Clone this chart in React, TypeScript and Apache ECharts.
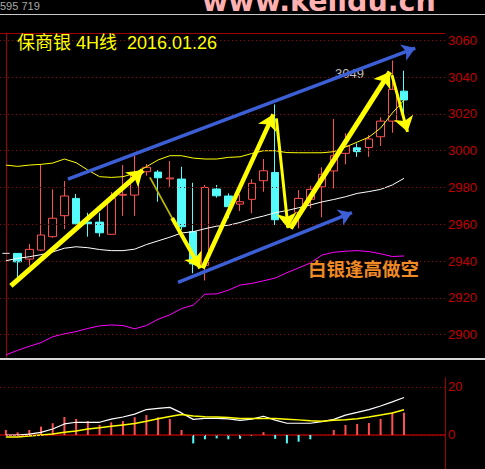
import React, { useEffect, useRef } from 'react';
import * as echarts from 'echarts';

const categories = [
  'K01', 'K02', 'K03', 'K04', 'K05', 'K06', 'K07', 'K08', 'K09', 'K10',
  'K11', 'K12', 'K13', 'K14', 'K15', 'K16', 'K17', 'K18', 'K19', 'K20',
  'K21', 'K22', 'K23', 'K24', 'K25', 'K26', 'K27', 'K28', 'K29', 'K30',
  'K31', 'K32', 'K33', 'K34', 'K35',
];
const opens = [2944.2, 2944.2, 2941.1, 2946.0, 2953.3, 2964.7, 2974.1, 2961.2, 2961.2, 2954.6,
  2975.8, 2975.9, 2988.6, 2988.4, 2984.7, 2984.6, 2956.0, 2937.7, 2979.2, 2975.4,
  2971.0, 2973.6, 2983.7, 2988.2, 2963.6, 2966.5, 2973.6, 2980.4, 2989.0, 2998.6,
  3001.6, 3001.8, 3007.6, 3016.1, 3032.4];
const closes = [2944.2, 2939.6, 2946.4, 2954.2, 2963.3, 2975.4, 2960.3, 2960.3, 2955.4, 2974.1,
  2976.3, 2988.0, 2991.0, 2985.3, 2985.2, 2958.7, 2938.5, 2980.0, 2975.5, 2969.6,
  2972.3, 2982.3, 2989.1, 2962.5, 2961.1, 2974.1, 2979.0, 2987.2, 2997.3, 3002.6,
  2999.5, 3006.4, 3016.1, 3033.4, 3027.6];
const lows = [2944.2, 2930.6, 2937.5, 2945.5, 2952.7, 2957.4, 2960.0, 2953.3, 2953.3, 2954.6,
  2964.6, 2964.6, 2986.4, 2972.3, 2980.4, 2957.0, 2933.4, 2929.5, 2974.5, 2963.3,
  2967.2, 2966.0, 2977.7, 2959.6, 2958.5, 2957.8, 2968.7, 2963.8, 2979.5, 2992.6,
  2996.7, 2996.7, 3002.6, 3009.8, 3020.5];
const highs = [2944.2, 2944.2, 2949.3, 2992.2, 2979.0, 2983.5, 2976.5, 2966.3, 2966.3, 2977.5,
  2992.2, 2997.7, 2992.8, 2989.5, 2994.4, 2991.3, 2982.6, 2981.4, 2981.4, 2976.8,
  2976.3, 2984.5, 2995.5, 3025.2, 2964.0, 2978.6, 2981.0, 2991.0, 3017.3, 3009.5,
  3004.0, 3008.5, 3018.1, 3049.0, 3043.5];

const bollUpper = [2992.2, 2991.5, 2992.2, 2992.6, 2993.3, 2995.5, 2993.5, 2989.5, 2985.9, 2985.5,
  2985.9, 2987.7, 2991.3, 2995.0, 2997.3, 2997.3, 2996.0, 2995.5, 2995.5, 2996.4,
  2996.7, 2998.5, 3000.0, 3000.0, 2999.0, 2998.9, 2998.9, 2998.9, 2999.5, 3002.0,
  3004.7, 3007.4, 3012.3, 3020.5, 3027.5];
const bollMid = [2940.2, 2941.5, 2942.4, 2943.5, 2945.0, 2947.0, 2947.8, 2947.3, 2946.3, 2945.7,
  2945.7, 2946.5, 2949.0, 2951.0, 2953.0, 2955.3, 2956.0, 2957.6, 2959.0, 2959.5,
  2961.0, 2963.0, 2964.5, 2966.3, 2967.5, 2969.0, 2970.5, 2972.2, 2973.5, 2975.0,
  2976.8, 2977.8, 2979.0, 2981.4, 2985.0];
const bollLower = [2889.0, 2891.5, 2893.7, 2895.7, 2898.9, 2900.5, 2901.7, 2903.4, 2904.8, 2905.3,
  2905.0, 2903.2, 2905.0, 2908.4, 2910.8, 2914.2, 2916.1, 2922.0, 2922.2, 2924.2,
  2927.0, 2927.9, 2929.3, 2930.8, 2933.7, 2936.3, 2939.0, 2943.3, 2944.8, 2945.4,
  2945.7, 2945.2, 2944.0, 2942.5, 2942.8];

const macdDif = [0.0, 0.0, 0.4, 1.1, 2.5, 4.6, 5.3, 5.3, 5.3, 6.6,
  7.5, 8.7, 10.6, 11.1, 11.5, 9.2, 6.5, 6.9, 6.9, 6.7,
  6.1, 6.6, 7.8, 6.2, 4.9, 4.9, 4.9, 5.6, 6.5, 8.3,
  9.4, 10.6, 12.1, 13.8, 15.6];
const macdDea = [-0.8, -0.8, -0.4, 0.0, 0.4, 1.1, 1.7, 2.5, 3.0, 3.6,
  4.2, 4.8, 5.7, 6.8, 7.7, 8.5, 7.9, 7.6, 7.5, 7.3,
  6.9, 6.9, 6.9, 6.9, 6.6, 6.3, 5.9, 5.7, 6.1, 6.4,
  6.8, 7.5, 8.3, 9.2, 10.5];
const macdHist = [2.1, 1.1, 2.1, 3.5, 4.9, 7.5, 6.7, 5.8, 4.2, 5.3,
  5.8, 7.4, 8.3, 7.4, 6.7, 2.1, -3.5, -1.8, -1.4, -1.8,
  -1.6, -0.3, 1.2, -1.6, -3.5, -2.8, -1.8, 0.0, 2.1, 4.2,
  4.6, 5.0, 6.7, 9.3, 9.3];

const priceTicks = [2900, 2920, 2940, 2960, 2980, 3000, 3020, 3040, 3060];
const macdTicks = [0, 20];

// annotation segments: [startIndex, startPrice, endIndex, endPrice]
const yellowArrows = [
  [0.43, 2926.5, 11.7, 2989.5],
  [14.2, 2963.4, 16.6, 2936.1],
  [16.8, 2936.1, 22.85, 3019.8],
  [23.1, 3017.6, 24.1, 2957.9],
  [24.3, 2957.8, 32.8, 3042.9],
  [32.97, 3041.1, 34.3, 3010.3],
];
const yellowArrowWidths = [5, 4, 4.5, 3, 5, 3];
const yellowThin = [[12.3, 2985.5, 14.2, 2963.4]];
const blueArrows = [
  [5.3, 2984.6, 34.96, 3055.8],
  [14.7, 2928.5, 29.55, 2966.3],
];
const highLabel = '3049';

const RED = '#ff5050';
const CYAN = '#54fcfc';
const DARKRED = '#a00000';

function seg(s: number[], extra: any = {}) {
  return { coords: [[s[0], s[1]], [s[2], s[3]]], ...extra };
}

export default function App() {
  const ref = useRef<HTMLDivElement>(null);
  useEffect(() => {
    document.body.style.margin = '0';
    document.body.style.background = '#000';
    const chart = echarts.init(ref.current!, null, { renderer: 'svg' });
    const candleData = categories.map((_, i) => {
      const v = [opens[i], closes[i], lows[i], highs[i]];
      if (opens[i] === closes[i] && highs[i] === lows[i]) {
        return {
          value: v,
          itemStyle: { color: '#c8c8c8', color0: '#c8c8c8', borderColor: '#c8c8c8', borderColor0: '#c8c8c8', borderColorDoji: '#c8c8c8' },
        };
      }
      return v;
    });
    const plainLabel = (v: number) => String(v);
    const option: any = {
      animation: false,
      backgroundColor: '#000000',
      grid: [
        { left: 0, top: 33, width: 445, height: 326 },
        { left: 0, top: 378, width: 445, height: 91 },
      ],
      xAxis: [
        {
          type: 'category', gridIndex: 0, data: categories, max: 37, position: 'top', boundaryGap: true,
          axisLine: { show: true, lineStyle: { color: DARKRED, width: 1 } },
          axisTick: { show: false }, axisLabel: { show: false }, splitLine: { show: false },
        },
        {
          type: 'category', gridIndex: 1, data: categories, max: 37, position: 'top', boundaryGap: true,
          axisLine: { show: true, lineStyle: { color: DARKRED, width: 1.5 } },
          axisTick: { show: false }, axisLabel: { show: false }, splitLine: { show: false },
        },
        { type: 'value', gridIndex: 0, min: -0.5, max: 37.5, show: false },
      ],
      yAxis: [
        {
          type: 'value', gridIndex: 0, position: 'right', min: 2886.8, max: 3064,
          axisLine: { show: true, lineStyle: { color: DARKRED, width: 1 } },
          axisTick: { show: false }, splitLine: { show: false },
          axisLabel: {
            customValues: priceTicks, formatter: plainLabel, color: '#c00000', fontSize: 13, margin: 3,
            fontFamily: 'Liberation Sans', padding: [7, 0, 0, 0],
          },
        },
        {
          type: 'value', gridIndex: 1, position: 'right', min: -14.17, max: 23.75,
          axisLine: { show: true, lineStyle: { color: DARKRED, width: 1 } },
          axisTick: { show: false }, splitLine: { show: false },
          axisLabel: {
            customValues: macdTicks, formatter: plainLabel, color: '#c00000', fontSize: 13, margin: 3,
            fontFamily: 'Liberation Sans', padding: [7, 0, 0, 0],
          },
        },
      ],
      series: [
        {
          type: 'candlestick', xAxisIndex: 0, yAxisIndex: 0, data: candleData, barWidth: 8,
          itemStyle: {
            color: '#000000', color0: CYAN, borderColor: RED, borderColor0: CYAN,
            borderColorDoji: RED, borderWidth: 1,
          },
          markLine: {
            silent: true, symbol: ['none', 'none'], label: { show: false },
            lineStyle: { color: DARKRED, type: [1, 3], width: 1 },
            data: priceTicks.map((v) => ({ yAxis: v })),
          },
          z: 3,
        },
        {
          type: 'line', xAxisIndex: 0, yAxisIndex: 0, data: bollUpper, showSymbol: false,
          lineStyle: { color: '#ffff00', width: 1 }, z: 4,
        },
        {
          type: 'line', xAxisIndex: 0, yAxisIndex: 0, data: bollMid, showSymbol: false,
          lineStyle: { color: '#ffffff', width: 1 }, z: 4,
        },
        {
          type: 'line', xAxisIndex: 0, yAxisIndex: 0, data: bollLower, showSymbol: false,
          lineStyle: { color: '#ff00ff', width: 1 }, z: 4,
        },
        {
          type: 'lines', coordinateSystem: 'cartesian2d', xAxisIndex: 2, yAxisIndex: 0,
          symbol: ['none', 'arrow'], symbolSize: 13,
          lineStyle: { color: '#3c5fd6', width: 3.5, opacity: 1 },
          data: blueArrows.map((s) => seg(s)), z: 5,
        },
        {
          type: 'lines', coordinateSystem: 'cartesian2d', xAxisIndex: 2, yAxisIndex: 0,
          symbol: ['none', 'none'],
          lineStyle: { color: '#b8b800', width: 1.8, opacity: 1 },
          data: yellowThin.map((s) => seg(s)), z: 6,
        },
        {
          type: 'lines', coordinateSystem: 'cartesian2d', xAxisIndex: 2, yAxisIndex: 0,
          symbol: ['none', 'arrow'], symbolSize: 15,
          lineStyle: { color: '#ffff00', width: 4, opacity: 1 },
          data: yellowArrows.map((s, i) => seg(s, { lineStyle: { width: yellowArrowWidths[i] } })), z: 6,
        },
        {
          type: 'bar', xAxisIndex: 1, yAxisIndex: 1, barWidth: 2,
          data: macdHist.map((v) => ({ value: v, itemStyle: { color: v >= 0 ? RED : CYAN } })),
          markLine: {
            silent: true, symbol: ['none', 'none'], label: { show: false },
            lineStyle: { color: DARKRED, type: [1, 3], width: 1 },
            data: macdTicks.map((v) => ({ yAxis: v })),
          },
        },
        {
          type: 'line', xAxisIndex: 1, yAxisIndex: 1, data: macdDif, showSymbol: false,
          lineStyle: { color: '#ffffff', width: 1.2 }, z: 4,
        },
        {
          type: 'line', xAxisIndex: 1, yAxisIndex: 1, data: macdDea, showSymbol: false,
          lineStyle: { color: '#ffff00', width: 1.5 }, z: 4,
        },
      ],
      graphic: [
        {
          type: 'text', left: 0, top: 0, z: 10,
          style: { text: '595 719', fill: '#a8a8a8', fontSize: 11, fontFamily: 'Liberation Sans' },
        },
        {
          type: 'text', x: 202, y: 16, z: 10,
          style: {
            text: 'www.kelidu.cn', fill: '#ffb0b0', fontSize: 28.5, fontWeight: 'bold',
            fontFamily: 'DejaVu Sans', verticalAlign: 'bottom',
            textShadowColor: '#c02828', textShadowOffsetX: 1, textShadowOffsetY: 1, textShadowBlur: 0,
          },
        },
        {
          type: 'line', z: 11, shape: { x1: 0, y1: 14.5, x2: 485, y2: 14.5 },
          style: { stroke: '#c8c8c8', lineWidth: 1 },
        },
        {
          type: 'line', z: 11, shape: { x1: 0, y1: 359, x2: 485, y2: 359 },
          style: { stroke: '#d8d8d8', lineWidth: 2 },
        },
        {
          type: 'text', x: 17, y: 43, z: 10,
          style: {
            text: '保商银 4H线  2016.01.26', fill: '#ffff00', fontSize: 18,
            fontFamily: 'Liberation Sans, Noto Sans CJK SC', verticalAlign: 'middle',
          },
        },
        {
          type: 'text', x: 308, y: 268, z: 10,
          style: {
            text: '白银逢高做空', fill: '#f08a24', fontSize: 18.5, fontWeight: 'bold',
            fontFamily: 'Noto Sans CJK SC', verticalAlign: 'middle',
          },
        },
        {
          type: 'text', x: 335, y: 73, z: 4,
          style: {
            text: highLabel, fill: '#c0c0c0', fontSize: 13,
            fontFamily: 'Liberation Sans', verticalAlign: 'middle',
          },
        },
      ],
    };
    chart.setOption(option);
    return () => chart.dispose();
  }, []);
  return (
    <div
      ref={ref}
      style={{ position: 'absolute', left: 0, top: 0, width: 485, height: 469, background: '#000' }}
    />
  );
}
